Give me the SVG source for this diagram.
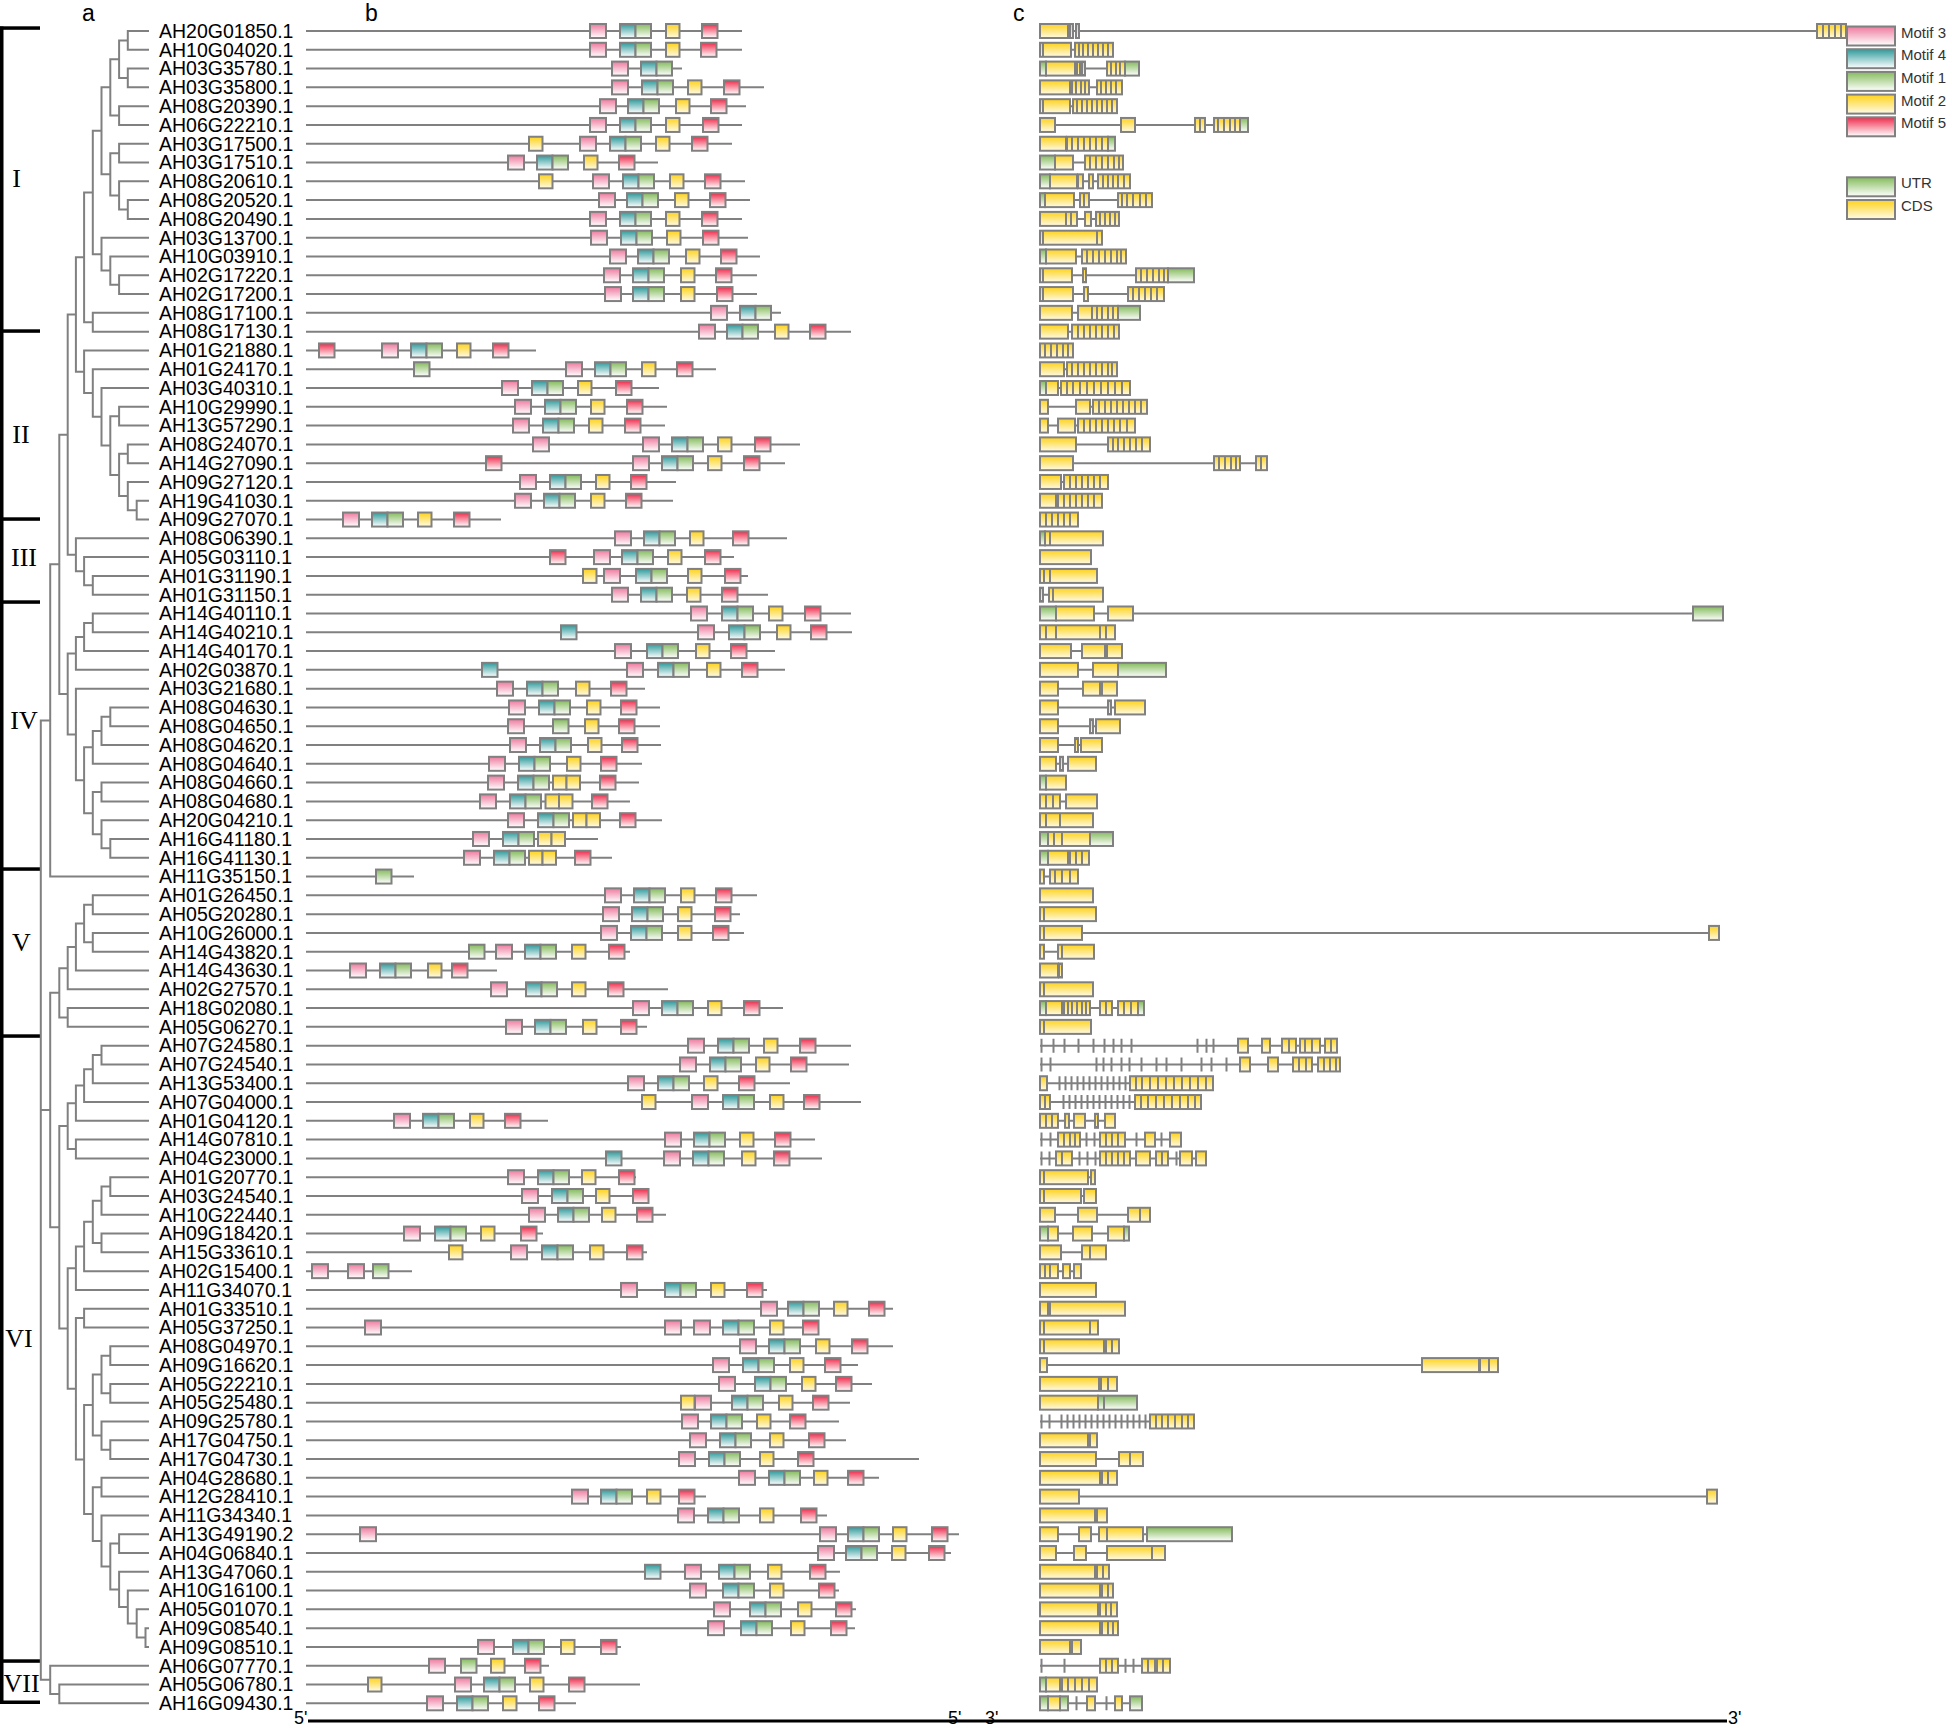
<svg xmlns="http://www.w3.org/2000/svg" xmlns:xlink="http://www.w3.org/1999/xlink" width="1952" height="1728" viewBox="0 0 1952 1728">
<style>
.lbl{font-family:"Liberation Sans",Arial,sans-serif;font-size:19.5px;fill:#000}
.hd{font-family:"Liberation Sans",Arial,sans-serif;font-size:23px;fill:#000}
.lg{font-family:"Liberation Sans",Arial,sans-serif;font-size:15px;fill:#333}
.rn{font-family:"Liberation Serif","Times New Roman",serif;font-size:26px;fill:#000;text-anchor:middle}
.ax{font-family:"Liberation Sans",Arial,sans-serif;font-size:18px;fill:#000}
.ln{stroke:#808080;stroke-width:2;fill:none}
.tr{stroke:#808080;stroke-width:2;fill:none}
.c{fill:url(#gY);stroke:#808080;stroke-width:2}
.u{fill:url(#gG);stroke:#808080;stroke-width:2}
.s{stroke:#808080;stroke-width:2;fill:none}
.bx{stroke:#808080;stroke-width:2}
</style>
<defs>
<linearGradient id="gP" x1="0" y1="0" x2="0" y2="1"><stop offset="0" stop-color="#ee7a9f"/><stop offset="1" stop-color="#ffffff"/></linearGradient>
<linearGradient id="gT" x1="0" y1="0" x2="0" y2="1"><stop offset="0" stop-color="#2e9a9b"/><stop offset="1" stop-color="#ffffff"/></linearGradient>
<linearGradient id="gG" x1="0" y1="0" x2="0" y2="1"><stop offset="0" stop-color="#84bb5c"/><stop offset="1" stop-color="#ffffff"/></linearGradient>
<linearGradient id="gY" x1="0" y1="0" x2="0" y2="1"><stop offset="0" stop-color="#ffd21a"/><stop offset="1" stop-color="#fffbe8"/></linearGradient>
<linearGradient id="gR" x1="0" y1="0" x2="0" y2="1"><stop offset="0" stop-color="#ee2b4b"/><stop offset="1" stop-color="#ffffff"/></linearGradient>
<rect id="P" y="-7" width="16" height="14" fill="url(#gP)" class="bx"/>
<rect id="T" y="-7" width="15.5" height="14" fill="url(#gT)" class="bx"/>
<rect id="G" y="-7" width="15.5" height="14" fill="url(#gG)" class="bx"/>
<rect id="Y" y="-7" width="13.5" height="14" fill="url(#gY)" class="bx"/>
<rect id="R" y="-7" width="15.5" height="14" fill="url(#gR)" class="bx"/>
<g id="TG"><rect y="-7" width="15.5" height="14" fill="url(#gT)" class="bx"/><rect x="15.5" y="-7" width="15.5" height="14" fill="url(#gG)" class="bx"/></g>
</defs>
<rect width="1952" height="1728" fill="#ffffff"/>

<g id="panel-labels">
<text class="hd" x="82" y="21">a</text>
<text class="hd" x="365" y="21">b</text>
<text class="hd" x="1013" y="21">c</text>
</g>

<g id="clades">
<rect x="0" y="26.5" width="3.5" height="1677.5" fill="#000"/>
<rect x="0" y="26.3" width="40" height="3.5" fill="#000"/>
<rect x="0" y="329.3" width="40" height="3.5" fill="#000"/>
<rect x="0" y="517.3" width="40" height="3.5" fill="#000"/>
<rect x="0" y="600.3" width="40" height="3.5" fill="#000"/>
<rect x="0" y="867.3" width="40" height="3.5" fill="#000"/>
<rect x="0" y="1034.3" width="40" height="3.5" fill="#000"/>
<rect x="0" y="1659.3" width="40" height="3.5" fill="#000"/>
<rect x="0" y="1700.5" width="40" height="3.5" fill="#000"/>
<text class="rn" x="16.5" y="187">I</text>
<text class="rn" x="21" y="443">II</text>
<text class="rn" x="24" y="566">III</text>
<text class="rn" x="24" y="729">IV</text>
<text class="rn" x="21.5" y="951">V</text>
<text class="rn" x="19" y="1347">VI</text>
<text class="rn" x="21.5" y="1692">VII</text>
</g>

<g id="connectors" class="tr">
<path d="M149 31H127.8V49.79H149M149 68.58H127.8V87.37H149M127.8 40.4H119.1V77.98H127.8M149 106.16H119.1V124.95H149M119.1 59.19H110.3V115.56H119.1M149 143.74H119.1V162.53H149M149 200.11H127.8V218.9H149M149 181.32H119.1V209.5H127.8M119.1 153.14H110.3V195.41H119.1M110.3 87.37H101.5V174.27H110.3M149 275.27H119.1V294.06H149M149 256.48H110.3V284.67H119.1M149 237.69H101.5V270.57H110.3M101.5 130.82H92.8V254.13H101.5M149 312.85H92.8V331.64H149M92.8 192.48H84.1V322.25H92.8"/>
<path d="M149 500.75H136.7V519.54H149M149 481.96H127.8V510.15H136.7M149 444.38H127.8V463.17H149M127.8 453.78H119.1V496.06H127.8M149 406.8H119.1V425.59H149M119.1 416.2H110.3V474.92H119.1M149 388.01H101.5V445.56H110.3M149 369.22H92.8V416.79H101.5M149 350.43H84.1V393H92.8M84.1 257.37H75.9V371.72H84.1"/>
<path d="M149 575.91H92.8V594.7H149M149 557.12H84.1V585.3H92.8M149 538.33H75.9V571.21H84.1M75.9 314.54H67.7V554.77H75.9"/>
<path d="M149 613.49H92.8V632.28H149M92.8 622.89H84.1V651.07H149M84.1 636.98H75.9V669.86H149M149 707.44H110.3V726.23H149M110.3 716.84H101.5V745.02H149M101.5 730.93H92.8V763.81H149M149 782.6H101.5V801.39H149M149 838.97H110.3V857.76H149M149 820.18H101.5V848.37H110.3M101.5 792H92.8V834.27H101.5M92.8 747.37H84.1V813.14H92.8M149 688.65H75.9V780.25H84.1M75.9 653.42H67.7V734.45H75.9M67.7 434.66H59.3V693.94H67.7M59.3 564.3H50.2V876.55H149"/>
<path d="M149 895.34H92.8V914.13H149M149 932.92H92.8V951.71H149M92.8 904.74H84.1V942.32H92.8M84.1 923.53H75.9V970.5H149M75.9 947.02H67.7V989.29H149M149 1008.08H67.7V1026.87H149M67.7 968.15H59.3V1017.48H67.7"/>
<path d="M149 1045.66H101.5V1064.45H149M101.5 1055.06H92.8V1083.24H149M92.8 1069.15H84.1V1102.03H149M84.1 1085.59H75.9V1120.82H149M149 1139.61H75.9V1158.4H149M75.9 1103.2H67.7V1149H75.9M149 1177.19H110.3V1195.98H149M110.3 1186.59H101.5V1214.77H149M149 1233.56H101.5V1252.35H149M101.5 1200.68H92.8V1242.96H101.5M92.8 1221.82H84.1V1271.14H149M84.1 1246.48H75.9V1289.93H149M149 1308.72H84.1V1327.51H149M149 1346.3H110.3V1365.09H149M149 1383.88H110.3V1402.67H149M110.3 1355.7H101.5V1393.28H110.3M149 1440.25H110.3V1459.04H149M149 1421.46H101.5V1449.65H110.3M101.5 1374.49H92.8V1435.55H101.5M149 1477.83H101.5V1496.62H149M149 1628.15H145.5V1646.94H149M149 1609.36H136.7V1637.55H145.5M149 1590.57H127.8V1623.45H136.7M149 1571.78H119.1V1607.01H127.8M149 1534.2H119.1V1552.99H149M119.1 1543.6H110.3V1589.4H119.1M149 1515.41H101.5V1566.5H110.3M101.5 1487.23H92.8V1540.95H101.5M92.8 1405.02H84.1V1514.09H92.8M84.1 1318.12H75.9V1459.56H84.1M75.9 1268.2H67.7V1388.84H75.9M67.7 1126.1H59.3V1328.52H67.7M59.3 992.81H50.2V1227.31H59.3"/>
<path d="M149 1684.52H59.3V1703.31H149M149 1665.73H50.2V1693.92H59.3"/>
<path d="M50.2 720.43H40.8V1679.83H50.2M40.8 1110.06H50.2"/>
</g>

<g id="r0" transform="translate(0,31)"><text class="lbl" x="159" y="6.8">AH20G01850.1</text><path class="ln" d="M306 0H742"/><use href="#P" x="590"/><use href="#TG" x="620"/><use href="#Y" x="666"/><use href="#R" x="702"/><path class="ln" d="M1040 0H1846"/><rect class="c" x="1040" y="-7" width="28" height="14"/><rect class="c" x="1070" y="-7" width="3" height="14"/><rect class="c" x="1076" y="-7" width="3" height="14"/><rect class="c" x="1817" y="-7" width="29" height="14"/><path class="s" d="M1823 -7V7M1829 -7V7M1835 -7V7M1841 -7V7"/></g>
<g id="r1" transform="translate(0,49.79)"><text class="lbl" x="159" y="6.8">AH10G04020.1</text><path class="ln" d="M306 0H742"/><use href="#P" x="590"/><use href="#TG" x="620"/><use href="#Y" x="666"/><use href="#R" x="701"/><path class="ln" d="M1040 0H1113"/><rect class="c" x="1040" y="-7" width="31" height="14"/><rect class="c" x="1075" y="-7" width="38" height="14"/><path class="s" d="M1043 -7V7M1079 -7V7M1083 -7V7M1088 -7V7M1093 -7V7M1098 -7V7M1103 -7V7M1108 -7V7"/></g>
<g id="r2" transform="translate(0,68.58)"><text class="lbl" x="159" y="6.8">AH03G35780.1</text><path class="ln" d="M306 0H682"/><use href="#P" x="612"/><use href="#TG" x="641"/><path class="ln" d="M1040 0H1139"/><rect class="u" x="1040" y="-7" width="6" height="14"/><rect class="c" x="1046" y="-7" width="29" height="14"/><rect class="c" x="1077" y="-7" width="3" height="14"/><rect class="c" x="1082" y="-7" width="3" height="14"/><rect class="c" x="1107" y="-7" width="18" height="14"/><rect class="u" x="1125" y="-7" width="14" height="14"/><path class="s" d="M1111 -7V7M1116 -7V7M1120 -7V7"/></g>
<g id="r3" transform="translate(0,87.37)"><text class="lbl" x="159" y="6.8">AH03G35800.1</text><path class="ln" d="M306 0H764"/><use href="#P" x="612"/><use href="#TG" x="642"/><use href="#Y" x="688"/><use href="#R" x="724"/><path class="ln" d="M1040 0H1122"/><rect class="c" x="1040" y="-7" width="30" height="14"/><rect class="c" x="1072" y="-7" width="17" height="14"/><rect class="c" x="1097" y="-7" width="25" height="14"/><path class="s" d="M1076 -7V7M1081 -7V7M1085 -7V7M1101 -7V7M1106 -7V7M1111 -7V7M1116 -7V7"/></g>
<g id="r4" transform="translate(0,106.16)"><text class="lbl" x="159" y="6.8">AH08G20390.1</text><path class="ln" d="M306 0H746"/><use href="#P" x="600"/><use href="#TG" x="628"/><use href="#Y" x="676"/><use href="#R" x="711"/><path class="ln" d="M1040 0H1117"/><rect class="c" x="1040" y="-7" width="30" height="14"/><rect class="c" x="1073" y="-7" width="44" height="14"/><path class="s" d="M1043 -7V7M1077 -7V7M1082 -7V7M1087 -7V7M1092 -7V7M1097 -7V7M1102 -7V7M1107 -7V7M1112 -7V7"/></g>
<g id="r5" transform="translate(0,124.95)"><text class="lbl" x="159" y="6.8">AH06G22210.1</text><path class="ln" d="M306 0H742"/><use href="#P" x="590"/><use href="#TG" x="620"/><use href="#Y" x="666"/><use href="#R" x="703"/><path class="ln" d="M1040 0H1248"/><rect class="c" x="1040" y="-7" width="15" height="14"/><rect class="c" x="1121" y="-7" width="14" height="14"/><rect class="c" x="1195" y="-7" width="10" height="14"/><rect class="c" x="1214" y="-7" width="26" height="14"/><rect class="u" x="1240" y="-7" width="8" height="14"/><path class="s" d="M1200 -7V7M1218 -7V7M1224 -7V7M1230 -7V7M1235 -7V7"/></g>
<g id="r6" transform="translate(0,143.74)"><text class="lbl" x="159" y="6.8">AH03G17500.1</text><path class="ln" d="M306 0H732"/><use href="#Y" x="529"/><use href="#P" x="580"/><use href="#TG" x="610"/><use href="#Y" x="656"/><use href="#R" x="692"/><path class="ln" d="M1040 0H1115"/><rect class="c" x="1040" y="-7" width="26" height="14"/><rect class="c" x="1067" y="-7" width="41" height="14"/><rect class="u" x="1108" y="-7" width="7" height="14"/><path class="s" d="M1072 -7V7M1078 -7V7M1084 -7V7M1090 -7V7M1096 -7V7M1102 -7V7"/></g>
<g id="r7" transform="translate(0,162.53)"><text class="lbl" x="159" y="6.8">AH03G17510.1</text><path class="ln" d="M306 0H658"/><use href="#P" x="508"/><use href="#TG" x="537"/><use href="#Y" x="584"/><use href="#R" x="619"/><path class="ln" d="M1040 0H1123"/><rect class="u" x="1040" y="-7" width="15" height="14"/><rect class="c" x="1055" y="-7" width="18" height="14"/><rect class="c" x="1085" y="-7" width="38" height="14"/><path class="s" d="M1090 -7V7M1096 -7V7M1102 -7V7M1108 -7V7M1114 -7V7M1119 -7V7"/></g>
<g id="r8" transform="translate(0,181.32)"><text class="lbl" x="159" y="6.8">AH08G20610.1</text><path class="ln" d="M306 0H745"/><use href="#Y" x="539"/><use href="#P" x="593"/><use href="#TG" x="623"/><use href="#Y" x="670"/><use href="#R" x="705"/><path class="ln" d="M1040 0H1130"/><rect class="u" x="1040" y="-7" width="10" height="14"/><rect class="c" x="1050" y="-7" width="27" height="14"/><rect class="c" x="1078" y="-7" width="5" height="14"/><rect class="c" x="1089" y="-7" width="4" height="14"/><rect class="c" x="1098" y="-7" width="32" height="14"/><path class="s" d="M1103 -7V7M1108 -7V7M1113 -7V7M1118 -7V7M1124 -7V7"/></g>
<g id="r9" transform="translate(0,200.11)"><text class="lbl" x="159" y="6.8">AH08G20520.1</text><path class="ln" d="M306 0H750"/><use href="#P" x="599"/><use href="#TG" x="627"/><use href="#Y" x="675"/><use href="#R" x="710"/><path class="ln" d="M1040 0H1152"/><rect class="u" x="1040" y="-7" width="5" height="14"/><rect class="c" x="1045" y="-7" width="29" height="14"/><rect class="c" x="1080" y="-7" width="9" height="14"/><rect class="c" x="1118" y="-7" width="34" height="14"/><path class="s" d="M1084 -7V7M1122 -7V7M1127 -7V7M1133 -7V7M1140 -7V7M1146 -7V7"/></g>
<g id="r10" transform="translate(0,218.9)"><text class="lbl" x="159" y="6.8">AH08G20490.1</text><path class="ln" d="M306 0H742"/><use href="#P" x="590"/><use href="#TG" x="620"/><use href="#Y" x="666"/><use href="#R" x="702"/><path class="ln" d="M1040 0H1119"/><rect class="c" x="1040" y="-7" width="37" height="14"/><rect class="c" x="1085" y="-7" width="6" height="14"/><rect class="c" x="1096" y="-7" width="23" height="14"/><path class="s" d="M1066 -7V7M1071 -7V7M1100 -7V7M1105 -7V7M1110 -7V7M1115 -7V7"/></g>
<g id="r11" transform="translate(0,237.69)"><text class="lbl" x="159" y="6.8">AH03G13700.1</text><path class="ln" d="M306 0H748"/><use href="#P" x="591"/><use href="#TG" x="621"/><use href="#Y" x="667"/><use href="#R" x="703"/><rect class="c" x="1040" y="-7" width="62" height="14"/><path class="s" d="M1043 -7V7M1097 -7V7"/></g>
<g id="r12" transform="translate(0,256.48)"><text class="lbl" x="159" y="6.8">AH10G03910.1</text><path class="ln" d="M306 0H760"/><use href="#P" x="610"/><use href="#TG" x="638"/><use href="#Y" x="686"/><use href="#R" x="721"/><path class="ln" d="M1040 0H1126"/><rect class="u" x="1040" y="-7" width="6" height="14"/><rect class="c" x="1046" y="-7" width="30" height="14"/><rect class="c" x="1082" y="-7" width="44" height="14"/><path class="s" d="M1087 -7V7M1093 -7V7M1099 -7V7M1105 -7V7M1111 -7V7M1117 -7V7M1121 -7V7"/></g>
<g id="r13" transform="translate(0,275.27)"><text class="lbl" x="159" y="6.8">AH02G17220.1</text><path class="ln" d="M306 0H757"/><use href="#P" x="604"/><use href="#TG" x="633"/><use href="#Y" x="681"/><use href="#R" x="716"/><path class="ln" d="M1040 0H1194"/><rect class="c" x="1040" y="-7" width="32" height="14"/><rect class="c" x="1083" y="-7" width="3" height="14"/><rect class="c" x="1136" y="-7" width="32" height="14"/><rect class="u" x="1168" y="-7" width="26" height="14"/><path class="s" d="M1043 -7V7M1141 -7V7M1147 -7V7M1153 -7V7M1159 -7V7M1164 -7V7"/></g>
<g id="r14" transform="translate(0,294.06)"><text class="lbl" x="159" y="6.8">AH02G17200.1</text><path class="ln" d="M306 0H757"/><use href="#P" x="605"/><use href="#TG" x="633"/><use href="#Y" x="681"/><use href="#R" x="717"/><path class="ln" d="M1040 0H1164"/><rect class="c" x="1040" y="-7" width="33" height="14"/><rect class="c" x="1084" y="-7" width="4" height="14"/><rect class="c" x="1128" y="-7" width="36" height="14"/><path class="s" d="M1043 -7V7M1133 -7V7M1139 -7V7M1145 -7V7M1151 -7V7M1157 -7V7"/></g>
<g id="r15" transform="translate(0,312.85)"><text class="lbl" x="159" y="6.8">AH08G17100.1</text><path class="ln" d="M306 0H781"/><use href="#P" x="711"/><use href="#TG" x="740"/><path class="ln" d="M1040 0H1140"/><rect class="c" x="1040" y="-7" width="32" height="14"/><rect class="c" x="1078" y="-7" width="40" height="14"/><rect class="u" x="1118" y="-7" width="22" height="14"/><path class="s" d="M1092 -7V7M1097 -7V7M1102 -7V7M1108 -7V7M1113 -7V7"/></g>
<g id="r16" transform="translate(0,331.64)"><text class="lbl" x="159" y="6.8">AH08G17130.1</text><path class="ln" d="M306 0H851"/><use href="#P" x="699"/><use href="#TG" x="727"/><use href="#Y" x="775"/><use href="#R" x="810"/><path class="ln" d="M1040 0H1119"/><rect class="c" x="1040" y="-7" width="28" height="14"/><rect class="c" x="1072" y="-7" width="47" height="14"/><path class="s" d="M1078 -7V7M1084 -7V7M1090 -7V7M1096 -7V7M1102 -7V7M1108 -7V7M1114 -7V7"/></g>
<g id="r17" transform="translate(0,350.43)"><text class="lbl" x="159" y="6.8">AH01G21880.1</text><path class="ln" d="M306 0H536"/><use href="#R" x="319"/><use href="#P" x="382"/><use href="#TG" x="411"/><use href="#Y" x="457"/><use href="#R" x="493"/><rect class="c" x="1040" y="-7" width="33" height="14"/><path class="s" d="M1045 -7V7M1051 -7V7M1057 -7V7M1063 -7V7M1068 -7V7"/></g>
<g id="r18" transform="translate(0,369.22)"><text class="lbl" x="159" y="6.8">AH01G24170.1</text><path class="ln" d="M306 0H716"/><use href="#G" x="414"/><use href="#P" x="566"/><use href="#TG" x="595"/><use href="#Y" x="642"/><use href="#R" x="677"/><path class="ln" d="M1040 0H1117"/><rect class="c" x="1040" y="-7" width="24" height="14"/><rect class="c" x="1067" y="-7" width="50" height="14"/><path class="s" d="M1072 -7V7M1078 -7V7M1084 -7V7M1090 -7V7M1096 -7V7M1102 -7V7M1108 -7V7M1112 -7V7"/></g>
<g id="r19" transform="translate(0,388.01)"><text class="lbl" x="159" y="6.8">AH03G40310.1</text><path class="ln" d="M306 0H659"/><use href="#P" x="502"/><use href="#TG" x="532"/><use href="#Y" x="578"/><use href="#R" x="616"/><path class="ln" d="M1040 0H1130"/><rect class="u" x="1040" y="-7" width="6" height="14"/><rect class="c" x="1046" y="-7" width="12" height="14"/><rect class="c" x="1061" y="-7" width="69" height="14"/><path class="s" d="M1067 -7V7M1073 -7V7M1080 -7V7M1087 -7V7M1094 -7V7M1101 -7V7M1108 -7V7M1115 -7V7M1122 -7V7"/></g>
<g id="r20" transform="translate(0,406.8)"><text class="lbl" x="159" y="6.8">AH10G29990.1</text><path class="ln" d="M306 0H667"/><use href="#P" x="515"/><use href="#TG" x="545"/><use href="#Y" x="591"/><use href="#R" x="627"/><path class="ln" d="M1040 0H1147"/><rect class="c" x="1040" y="-7" width="8" height="14"/><rect class="c" x="1076" y="-7" width="14" height="14"/><rect class="c" x="1093" y="-7" width="54" height="14"/><path class="s" d="M1099 -7V7M1105 -7V7M1111 -7V7M1117 -7V7M1123 -7V7M1129 -7V7M1135 -7V7M1141 -7V7"/></g>
<g id="r21" transform="translate(0,425.59)"><text class="lbl" x="159" y="6.8">AH13G57290.1</text><path class="ln" d="M306 0H665"/><use href="#P" x="513"/><use href="#TG" x="543"/><use href="#Y" x="589"/><use href="#R" x="625"/><path class="ln" d="M1040 0H1135"/><rect class="c" x="1040" y="-7" width="8" height="14"/><rect class="c" x="1058" y="-7" width="17" height="14"/><rect class="c" x="1078" y="-7" width="57" height="14"/><path class="s" d="M1084 -7V7M1090 -7V7M1096 -7V7M1102 -7V7M1108 -7V7M1114 -7V7M1120 -7V7M1127 -7V7"/></g>
<g id="r22" transform="translate(0,444.38)"><text class="lbl" x="159" y="6.8">AH08G24070.1</text><path class="ln" d="M306 0H800"/><use href="#P" x="533"/><use href="#P" x="643"/><use href="#TG" x="672"/><use href="#Y" x="718"/><use href="#R" x="755"/><path class="ln" d="M1040 0H1150"/><rect class="c" x="1040" y="-7" width="36" height="14"/><rect class="c" x="1108" y="-7" width="42" height="14"/><path class="s" d="M1113 -7V7M1118 -7V7M1124 -7V7M1130 -7V7M1136 -7V7M1142 -7V7"/></g>
<g id="r23" transform="translate(0,463.17)"><text class="lbl" x="159" y="6.8">AH14G27090.1</text><path class="ln" d="M306 0H785"/><use href="#R" x="486"/><use href="#P" x="633"/><use href="#TG" x="662"/><use href="#Y" x="708"/><use href="#R" x="744"/><path class="ln" d="M1040 0H1267"/><rect class="c" x="1040" y="-7" width="33" height="14"/><rect class="c" x="1214" y="-7" width="26" height="14"/><rect class="c" x="1256" y="-7" width="11" height="14"/><path class="s" d="M1219 -7V7M1225 -7V7M1231 -7V7M1236 -7V7M1261 -7V7"/></g>
<g id="r24" transform="translate(0,481.96)"><text class="lbl" x="159" y="6.8">AH09G27120.1</text><path class="ln" d="M306 0H676"/><use href="#P" x="520"/><use href="#TG" x="550"/><use href="#Y" x="596"/><use href="#R" x="631"/><path class="ln" d="M1040 0H1108"/><rect class="c" x="1040" y="-7" width="21" height="14"/><rect class="c" x="1064" y="-7" width="44" height="14"/><path class="s" d="M1070 -7V7M1076 -7V7M1082 -7V7M1088 -7V7M1094 -7V7M1100 -7V7"/></g>
<g id="r25" transform="translate(0,500.75)"><text class="lbl" x="159" y="6.8">AH19G41030.1</text><path class="ln" d="M306 0H673"/><use href="#P" x="515"/><use href="#TG" x="544"/><use href="#Y" x="591"/><use href="#R" x="626"/><path class="ln" d="M1040 0H1102"/><rect class="c" x="1040" y="-7" width="16" height="14"/><rect class="c" x="1058" y="-7" width="44" height="14"/><path class="s" d="M1064 -7V7M1070 -7V7M1076 -7V7M1082 -7V7M1088 -7V7M1094 -7V7"/></g>
<g id="r26" transform="translate(0,519.54)"><text class="lbl" x="159" y="6.8">AH09G27070.1</text><path class="ln" d="M306 0H501"/><use href="#P" x="343"/><use href="#TG" x="372"/><use href="#Y" x="418"/><use href="#R" x="454"/><rect class="c" x="1040" y="-7" width="38" height="14"/><path class="s" d="M1046 -7V7M1052 -7V7M1058 -7V7M1064 -7V7M1070 -7V7"/></g>
<g id="r27" transform="translate(0,538.33)"><text class="lbl" x="159" y="6.8">AH08G06390.1</text><path class="ln" d="M306 0H787"/><use href="#P" x="615"/><use href="#TG" x="644"/><use href="#Y" x="690"/><use href="#R" x="733"/><rect class="u" x="1040" y="-7" width="5" height="14"/><rect class="c" x="1045" y="-7" width="58" height="14"/><path class="s" d="M1050 -7V7"/></g>
<g id="r28" transform="translate(0,557.12)"><text class="lbl" x="159" y="6.8">AH05G03110.1</text><path class="ln" d="M306 0H734"/><use href="#R" x="550"/><use href="#P" x="594"/><use href="#TG" x="622"/><use href="#Y" x="668"/><use href="#R" x="705"/><rect class="c" x="1040" y="-7" width="51" height="14"/></g>
<g id="r29" transform="translate(0,575.91)"><text class="lbl" x="159" y="6.8">AH01G31190.1</text><path class="ln" d="M306 0H748"/><use href="#Y" x="583"/><use href="#P" x="604"/><use href="#TG" x="636"/><use href="#Y" x="688"/><use href="#R" x="725"/><rect class="c" x="1040" y="-7" width="57" height="14"/><path class="s" d="M1044 -7V7M1050 -7V7"/></g>
<g id="r30" transform="translate(0,594.7)"><text class="lbl" x="159" y="6.8">AH01G31150.1</text><path class="ln" d="M306 0H768"/><use href="#P" x="612"/><use href="#TG" x="641"/><use href="#Y" x="687"/><use href="#R" x="722"/><path class="ln" d="M1040 0H1103"/><rect class="c" x="1040" y="-7" width="3" height="14"/><rect class="c" x="1049" y="-7" width="54" height="14"/><path class="s" d="M1053 -7V7"/></g>
<g id="r31" transform="translate(0,613.49)"><text class="lbl" x="159" y="6.8">AH14G40110.1</text><path class="ln" d="M306 0H851"/><use href="#P" x="691"/><use href="#TG" x="722"/><use href="#Y" x="769"/><use href="#R" x="805"/><path class="ln" d="M1040 0H1723"/><rect class="u" x="1040" y="-7" width="16" height="14"/><rect class="c" x="1056" y="-7" width="38" height="14"/><rect class="c" x="1108" y="-7" width="25" height="14"/><rect class="u" x="1693" y="-7" width="30" height="14"/></g>
<g id="r32" transform="translate(0,632.28)"><text class="lbl" x="159" y="6.8">AH14G40210.1</text><path class="ln" d="M306 0H852"/><use href="#T" x="561"/><use href="#P" x="698"/><use href="#TG" x="729"/><use href="#Y" x="777"/><use href="#R" x="811"/><rect class="c" x="1040" y="-7" width="75" height="14"/><path class="s" d="M1046 -7V7M1056 -7V7M1100 -7V7M1106 -7V7"/></g>
<g id="r33" transform="translate(0,651.07)"><text class="lbl" x="159" y="6.8">AH14G40170.1</text><path class="ln" d="M306 0H775"/><use href="#P" x="615"/><use href="#TG" x="647"/><use href="#Y" x="696"/><use href="#R" x="731"/><path class="ln" d="M1040 0H1122"/><rect class="c" x="1040" y="-7" width="31" height="14"/><rect class="c" x="1082" y="-7" width="23" height="14"/><rect class="c" x="1107" y="-7" width="15" height="14"/></g>
<g id="r34" transform="translate(0,669.86)"><text class="lbl" x="159" y="6.8">AH02G03870.1</text><path class="ln" d="M306 0H785"/><use href="#T" x="482"/><use href="#P" x="627"/><use href="#TG" x="658"/><use href="#Y" x="707"/><use href="#R" x="742"/><path class="ln" d="M1040 0H1166"/><rect class="c" x="1040" y="-7" width="38" height="14"/><rect class="c" x="1093" y="-7" width="25" height="14"/><rect class="u" x="1118" y="-7" width="48" height="14"/></g>
<g id="r35" transform="translate(0,688.65)"><text class="lbl" x="159" y="6.8">AH03G21680.1</text><path class="ln" d="M306 0H645"/><use href="#P" x="497"/><use href="#TG" x="527"/><use href="#Y" x="576"/><use href="#R" x="611"/><path class="ln" d="M1040 0H1117"/><rect class="c" x="1040" y="-7" width="18" height="14"/><rect class="c" x="1083" y="-7" width="17" height="14"/><rect class="c" x="1102" y="-7" width="15" height="14"/></g>
<g id="r36" transform="translate(0,707.44)"><text class="lbl" x="159" y="6.8">AH08G04630.1</text><path class="ln" d="M306 0H660"/><use href="#P" x="509"/><use href="#TG" x="539"/><use href="#Y" x="587"/><use href="#R" x="621"/><path class="ln" d="M1040 0H1145"/><rect class="c" x="1040" y="-7" width="18" height="14"/><rect class="c" x="1108" y="-7" width="3" height="14"/><rect class="c" x="1115" y="-7" width="30" height="14"/></g>
<g id="r37" transform="translate(0,726.23)"><text class="lbl" x="159" y="6.8">AH08G04650.1</text><path class="ln" d="M306 0H660"/><use href="#P" x="508"/><use href="#G" x="553"/><use href="#Y" x="585"/><use href="#R" x="619"/><path class="ln" d="M1040 0H1120"/><rect class="c" x="1040" y="-7" width="18" height="14"/><rect class="c" x="1090" y="-7" width="3" height="14"/><rect class="c" x="1096" y="-7" width="24" height="14"/></g>
<g id="r38" transform="translate(0,745.02)"><text class="lbl" x="159" y="6.8">AH08G04620.1</text><path class="ln" d="M306 0H661"/><use href="#P" x="510"/><use href="#TG" x="540"/><use href="#Y" x="588"/><use href="#R" x="622"/><path class="ln" d="M1040 0H1102"/><rect class="c" x="1040" y="-7" width="18" height="14"/><rect class="c" x="1075" y="-7" width="3" height="14"/><rect class="c" x="1081" y="-7" width="21" height="14"/></g>
<g id="r39" transform="translate(0,763.81)"><text class="lbl" x="159" y="6.8">AH08G04640.1</text><path class="ln" d="M306 0H642"/><use href="#P" x="489"/><use href="#TG" x="519"/><use href="#Y" x="567"/><use href="#R" x="601"/><path class="ln" d="M1040 0H1096"/><rect class="c" x="1040" y="-7" width="16" height="14"/><rect class="c" x="1060" y="-7" width="3" height="14"/><rect class="c" x="1068" y="-7" width="28" height="14"/></g>
<g id="r40" transform="translate(0,782.6)"><text class="lbl" x="159" y="6.8">AH08G04660.1</text><path class="ln" d="M306 0H639"/><use href="#P" x="488"/><use href="#TG" x="518"/><use href="#Y" x="553"/><use href="#Y" x="566.5"/><use href="#R" x="600"/><rect class="u" x="1040" y="-7" width="6" height="14"/><rect class="c" x="1046" y="-7" width="20" height="14"/></g>
<g id="r41" transform="translate(0,801.39)"><text class="lbl" x="159" y="6.8">AH08G04680.1</text><path class="ln" d="M306 0H630"/><use href="#P" x="480"/><use href="#TG" x="510"/><use href="#Y" x="545.5"/><use href="#Y" x="559"/><use href="#R" x="592"/><path class="ln" d="M1040 0H1097"/><rect class="c" x="1040" y="-7" width="20" height="14"/><rect class="c" x="1066" y="-7" width="31" height="14"/><path class="s" d="M1046 -7V7M1053 -7V7"/></g>
<g id="r42" transform="translate(0,820.18)"><text class="lbl" x="159" y="6.8">AH20G04210.1</text><path class="ln" d="M306 0H662"/><use href="#P" x="508"/><use href="#TG" x="538"/><use href="#Y" x="573"/><use href="#Y" x="586.5"/><use href="#R" x="620"/><rect class="c" x="1040" y="-7" width="53" height="14"/><path class="s" d="M1046 -7V7M1060 -7V7"/></g>
<g id="r43" transform="translate(0,838.97)"><text class="lbl" x="159" y="6.8">AH16G41180.1</text><path class="ln" d="M306 0H598"/><use href="#P" x="473"/><use href="#TG" x="503"/><use href="#Y" x="538"/><use href="#Y" x="551.5"/><rect class="u" x="1040" y="-7" width="8" height="14"/><rect class="c" x="1048" y="-7" width="42" height="14"/><rect class="u" x="1090" y="-7" width="23" height="14"/><path class="s" d="M1054 -7V7M1062 -7V7"/></g>
<g id="r44" transform="translate(0,857.76)"><text class="lbl" x="159" y="6.8">AH16G41130.1</text><path class="ln" d="M306 0H612"/><use href="#P" x="464"/><use href="#TG" x="494"/><use href="#Y" x="529"/><use href="#Y" x="542.5"/><use href="#R" x="575"/><path class="ln" d="M1040 0H1089"/><rect class="u" x="1040" y="-7" width="8" height="14"/><rect class="c" x="1048" y="-7" width="20" height="14"/><rect class="c" x="1070" y="-7" width="19" height="14"/><path class="s" d="M1076 -7V7M1082 -7V7"/></g>
<g id="r45" transform="translate(0,876.55)"><text class="lbl" x="159" y="6.8">AH11G35150.1</text><path class="ln" d="M306 0H414"/><use href="#G" x="376"/><path class="ln" d="M1040 0H1078"/><rect class="c" x="1040" y="-7" width="4" height="14"/><rect class="c" x="1050" y="-7" width="28" height="14"/><path class="s" d="M1055 -7V7M1062 -7V7M1070 -7V7"/></g>
<g id="r46" transform="translate(0,895.34)"><text class="lbl" x="159" y="6.8">AH01G26450.1</text><path class="ln" d="M306 0H757"/><use href="#P" x="605"/><use href="#TG" x="634"/><use href="#Y" x="681"/><use href="#R" x="716"/><rect class="c" x="1040" y="-7" width="53" height="14"/></g>
<g id="r47" transform="translate(0,914.13)"><text class="lbl" x="159" y="6.8">AH05G20280.1</text><path class="ln" d="M306 0H740"/><use href="#P" x="603"/><use href="#TG" x="632"/><use href="#Y" x="678"/><use href="#R" x="715"/><rect class="c" x="1040" y="-7" width="56" height="14"/><path class="s" d="M1044 -7V7"/></g>
<g id="r48" transform="translate(0,932.92)"><text class="lbl" x="159" y="6.8">AH10G26000.1</text><path class="ln" d="M306 0H744"/><use href="#P" x="601"/><use href="#TG" x="631"/><use href="#Y" x="678"/><use href="#R" x="713"/><path class="ln" d="M1040 0H1719"/><rect class="c" x="1040" y="-7" width="42" height="14"/><rect class="c" x="1709" y="-7" width="10" height="14"/><path class="s" d="M1044 -7V7"/></g>
<g id="r49" transform="translate(0,951.71)"><text class="lbl" x="159" y="6.8">AH14G43820.1</text><path class="ln" d="M306 0H630"/><use href="#G" x="469"/><use href="#P" x="496"/><use href="#TG" x="525"/><use href="#Y" x="572"/><use href="#R" x="609"/><path class="ln" d="M1040 0H1094"/><rect class="c" x="1040" y="-7" width="4" height="14"/><rect class="c" x="1058" y="-7" width="36" height="14"/><path class="s" d="M1062 -7V7"/></g>
<g id="r50" transform="translate(0,970.5)"><text class="lbl" x="159" y="6.8">AH14G43630.1</text><path class="ln" d="M306 0H497"/><use href="#P" x="350"/><use href="#TG" x="380"/><use href="#Y" x="428"/><use href="#R" x="452"/><path class="ln" d="M1040 0H1062"/><rect class="c" x="1040" y="-7" width="18" height="14"/><rect class="c" x="1059" y="-7" width="3" height="14"/></g>
<g id="r51" transform="translate(0,989.29)"><text class="lbl" x="159" y="6.8">AH02G27570.1</text><path class="ln" d="M306 0H668"/><use href="#P" x="491"/><use href="#TG" x="526"/><use href="#Y" x="572"/><use href="#R" x="608"/><rect class="c" x="1040" y="-7" width="53" height="14"/><path class="s" d="M1044 -7V7"/></g>
<g id="r52" transform="translate(0,1008.08)"><text class="lbl" x="159" y="6.8">AH18G02080.1</text><path class="ln" d="M306 0H783"/><use href="#P" x="633"/><use href="#TG" x="662"/><use href="#Y" x="708"/><use href="#R" x="744"/><path class="ln" d="M1040 0H1144"/><rect class="u" x="1040" y="-7" width="6" height="14"/><rect class="c" x="1046" y="-7" width="16" height="14"/><rect class="c" x="1064" y="-7" width="26" height="14"/><rect class="c" x="1100" y="-7" width="12" height="14"/><rect class="c" x="1118" y="-7" width="20" height="14"/><rect class="u" x="1138" y="-7" width="6" height="14"/><path class="s" d="M1068 -7V7M1072 -7V7M1077 -7V7M1082 -7V7M1086 -7V7M1106 -7V7M1124 -7V7M1131 -7V7"/></g>
<g id="r53" transform="translate(0,1026.87)"><text class="lbl" x="159" y="6.8">AH05G06270.1</text><path class="ln" d="M306 0H647"/><use href="#P" x="506"/><use href="#TG" x="535"/><use href="#Y" x="583"/><use href="#R" x="621"/><rect class="c" x="1040" y="-7" width="51" height="14"/><path class="s" d="M1044 -7V7"/></g>
<g id="r54" transform="translate(0,1045.66)"><text class="lbl" x="159" y="6.8">AH07G24580.1</text><path class="ln" d="M306 0H851"/><use href="#P" x="688"/><use href="#TG" x="718"/><use href="#Y" x="764"/><use href="#R" x="800"/><path class="ln" d="M1040 0H1337"/><path class="s" d="M1041.5 -7V7M1053.5 -7V7M1064.5 -7V7M1078.5 -7V7M1093.5 -7V7M1104.5 -7V7M1113.5 -7V7M1121.5 -7V7M1131.5 -7V7M1197.5 -7V7M1206.5 -7V7M1213.5 -7V7"/><rect class="c" x="1238" y="-7" width="10" height="14"/><rect class="c" x="1262" y="-7" width="8" height="14"/><rect class="c" x="1282" y="-7" width="14" height="14"/><rect class="c" x="1300" y="-7" width="20" height="14"/><rect class="c" x="1325" y="-7" width="12" height="14"/><path class="s" d="M1289 -7V7M1305 -7V7M1312 -7V7M1331 -7V7"/></g>
<g id="r55" transform="translate(0,1064.45)"><text class="lbl" x="159" y="6.8">AH07G24540.1</text><path class="ln" d="M306 0H849"/><use href="#P" x="680"/><use href="#TG" x="710"/><use href="#Y" x="756"/><use href="#R" x="791"/><path class="ln" d="M1040 0H1340"/><path class="s" d="M1041.5 -7V7M1050.5 -7V7M1096.5 -7V7M1103.5 -7V7M1111.5 -7V7M1121.5 -7V7M1129.5 -7V7M1141.5 -7V7M1156.5 -7V7M1166.5 -7V7M1181.5 -7V7M1201.5 -7V7M1211.5 -7V7M1226.5 -7V7"/><rect class="c" x="1240" y="-7" width="10" height="14"/><rect class="c" x="1268" y="-7" width="10" height="14"/><rect class="c" x="1293" y="-7" width="19" height="14"/><rect class="c" x="1318" y="-7" width="22" height="14"/><path class="s" d="M1299 -7V7M1306 -7V7M1324 -7V7M1330 -7V7M1336 -7V7"/></g>
<g id="r56" transform="translate(0,1083.24)"><text class="lbl" x="159" y="6.8">AH13G53400.1</text><path class="ln" d="M306 0H790"/><use href="#P" x="628"/><use href="#TG" x="658"/><use href="#Y" x="704"/><use href="#R" x="739"/><path class="ln" d="M1040 0H1213"/><rect class="c" x="1040" y="-7" width="7" height="14"/><path class="s" d="M1059.5 -7V7M1065.5 -7V7M1071.5 -7V7M1077.5 -7V7M1083.5 -7V7M1089.5 -7V7M1095.5 -7V7M1101.5 -7V7M1107.5 -7V7M1113.5 -7V7M1119.5 -7V7M1125.5 -7V7"/><rect class="c" x="1130" y="-7" width="83" height="14"/><path class="s" d="M1136 -7V7M1142 -7V7M1150 -7V7M1158 -7V7M1166 -7V7M1174 -7V7M1182 -7V7M1190 -7V7M1198 -7V7M1206 -7V7"/></g>
<g id="r57" transform="translate(0,1102.03)"><text class="lbl" x="159" y="6.8">AH07G04000.1</text><path class="ln" d="M306 0H861"/><use href="#Y" x="642"/><use href="#P" x="692"/><use href="#TG" x="723"/><use href="#Y" x="770"/><use href="#R" x="804"/><path class="ln" d="M1040 0H1201"/><rect class="c" x="1040" y="-7" width="10" height="14"/><path class="s" d="M1045 -7V7M1063.5 -7V7M1069.5 -7V7M1075.5 -7V7M1081.5 -7V7M1087.5 -7V7M1093.5 -7V7M1099.5 -7V7M1105.5 -7V7M1111.5 -7V7M1117.5 -7V7M1123.5 -7V7M1129.5 -7V7"/><rect class="c" x="1135" y="-7" width="66" height="14"/><path class="s" d="M1141 -7V7M1148 -7V7M1156 -7V7M1164 -7V7M1172 -7V7M1180 -7V7M1188 -7V7M1195 -7V7"/></g>
<g id="r58" transform="translate(0,1120.82)"><text class="lbl" x="159" y="6.8">AH01G04120.1</text><path class="ln" d="M306 0H548"/><use href="#P" x="394"/><use href="#TG" x="423"/><use href="#Y" x="470"/><use href="#R" x="505"/><path class="ln" d="M1040 0H1115"/><rect class="c" x="1040" y="-7" width="18" height="14"/><rect class="c" x="1065" y="-7" width="4" height="14"/><rect class="c" x="1074" y="-7" width="11" height="14"/><rect class="c" x="1095" y="-7" width="3" height="14"/><rect class="c" x="1105" y="-7" width="10" height="14"/><path class="s" d="M1046 -7V7M1052 -7V7"/></g>
<g id="r59" transform="translate(0,1139.61)"><text class="lbl" x="159" y="6.8">AH14G07810.1</text><path class="ln" d="M306 0H815"/><use href="#P" x="665"/><use href="#TG" x="694"/><use href="#Y" x="740"/><use href="#R" x="775"/><path class="ln" d="M1040 0H1181"/><path class="s" d="M1041.5 -7V7M1050.5 -7V7M1086.5 -7V7M1094.5 -7V7M1136.5 -7V7M1161.5 -7V7"/><rect class="c" x="1058" y="-7" width="22" height="14"/><rect class="c" x="1100" y="-7" width="25" height="14"/><rect class="c" x="1145" y="-7" width="10" height="14"/><rect class="c" x="1170" y="-7" width="11" height="14"/><path class="s" d="M1064 -7V7M1070 -7V7M1075 -7V7M1106 -7V7M1112 -7V7M1118 -7V7"/></g>
<g id="r60" transform="translate(0,1158.4)"><text class="lbl" x="159" y="6.8">AH04G23000.1</text><path class="ln" d="M306 0H822"/><use href="#T" x="606"/><use href="#P" x="664"/><use href="#TG" x="693"/><use href="#Y" x="742"/><use href="#R" x="774"/><path class="ln" d="M1040 0H1206"/><path class="s" d="M1041.5 -7V7M1049.5 -7V7M1079.5 -7V7M1087.5 -7V7M1095.5 -7V7M1176.5 -7V7"/><rect class="c" x="1056" y="-7" width="16" height="14"/><rect class="c" x="1100" y="-7" width="30" height="14"/><rect class="c" x="1136" y="-7" width="14" height="14"/><rect class="c" x="1156" y="-7" width="12" height="14"/><rect class="c" x="1180" y="-7" width="12" height="14"/><rect class="c" x="1196" y="-7" width="10" height="14"/><path class="s" d="M1062 -7V7M1106 -7V7M1112 -7V7M1118 -7V7M1124 -7V7M1162 -7V7"/></g>
<g id="r61" transform="translate(0,1177.19)"><text class="lbl" x="159" y="6.8">AH01G20770.1</text><path class="ln" d="M306 0H636"/><use href="#P" x="508"/><use href="#TG" x="538"/><use href="#Y" x="582"/><use href="#R" x="619"/><path class="ln" d="M1040 0H1095"/><rect class="c" x="1040" y="-7" width="48" height="14"/><rect class="c" x="1091" y="-7" width="4" height="14"/><path class="s" d="M1044 -7V7"/></g>
<g id="r62" transform="translate(0,1195.98)"><text class="lbl" x="159" y="6.8">AH03G24540.1</text><path class="ln" d="M306 0H649"/><use href="#P" x="522"/><use href="#TG" x="552"/><use href="#Y" x="596"/><use href="#R" x="633"/><path class="ln" d="M1040 0H1096"/><rect class="c" x="1040" y="-7" width="41" height="14"/><rect class="c" x="1084" y="-7" width="12" height="14"/><path class="s" d="M1044 -7V7"/></g>
<g id="r63" transform="translate(0,1214.77)"><text class="lbl" x="159" y="6.8">AH10G22440.1</text><path class="ln" d="M306 0H666"/><use href="#P" x="529"/><use href="#TG" x="558"/><use href="#Y" x="602"/><use href="#R" x="637"/><path class="ln" d="M1040 0H1150"/><rect class="c" x="1040" y="-7" width="15" height="14"/><rect class="c" x="1078" y="-7" width="19" height="14"/><rect class="c" x="1128" y="-7" width="22" height="14"/><path class="s" d="M1140 -7V7"/></g>
<g id="r64" transform="translate(0,1233.56)"><text class="lbl" x="159" y="6.8">AH09G18420.1</text><path class="ln" d="M306 0H543"/><use href="#P" x="404"/><use href="#TG" x="435"/><use href="#Y" x="481"/><use href="#R" x="521"/><path class="ln" d="M1040 0H1129"/><rect class="u" x="1040" y="-7" width="8" height="14"/><rect class="c" x="1048" y="-7" width="10" height="14"/><rect class="c" x="1073" y="-7" width="19" height="14"/><rect class="c" x="1108" y="-7" width="16" height="14"/><rect class="u" x="1124" y="-7" width="5" height="14"/></g>
<g id="r65" transform="translate(0,1252.35)"><text class="lbl" x="159" y="6.8">AH15G33610.1</text><path class="ln" d="M306 0H647"/><use href="#Y" x="449"/><use href="#P" x="511"/><use href="#TG" x="542"/><use href="#Y" x="590"/><use href="#R" x="627"/><path class="ln" d="M1040 0H1106"/><rect class="c" x="1040" y="-7" width="21" height="14"/><rect class="c" x="1082" y="-7" width="24" height="14"/><path class="s" d="M1090 -7V7"/></g>
<g id="r66" transform="translate(0,1271.14)"><text class="lbl" x="159" y="6.8">AH02G15400.1</text><path class="ln" d="M306 0H412"/><use href="#P" x="312"/><use href="#P" x="348"/><use href="#G" x="373"/><path class="ln" d="M1040 0H1081"/><rect class="c" x="1040" y="-7" width="18" height="14"/><rect class="c" x="1063" y="-7" width="7" height="14"/><rect class="c" x="1074" y="-7" width="7" height="14"/><path class="s" d="M1045 -7V7M1050 -7V7"/></g>
<g id="r67" transform="translate(0,1289.93)"><text class="lbl" x="159" y="6.8">AH11G34070.1</text><path class="ln" d="M306 0H767"/><use href="#P" x="621"/><use href="#TG" x="665"/><use href="#Y" x="711"/><use href="#R" x="747"/><rect class="c" x="1040" y="-7" width="56" height="14"/></g>
<g id="r68" transform="translate(0,1308.72)"><text class="lbl" x="159" y="6.8">AH01G33510.1</text><path class="ln" d="M306 0H893"/><use href="#P" x="761"/><use href="#TG" x="788"/><use href="#Y" x="834"/><use href="#R" x="869"/><path class="ln" d="M1040 0H1125"/><rect class="c" x="1040" y="-7" width="8" height="14"/><rect class="c" x="1050" y="-7" width="75" height="14"/></g>
<g id="r69" transform="translate(0,1327.51)"><text class="lbl" x="159" y="6.8">AH05G37250.1</text><path class="ln" d="M306 0H819"/><use href="#P" x="365"/><use href="#P" x="665"/><use href="#P" x="694"/><use href="#TG" x="723"/><use href="#Y" x="770"/><use href="#R" x="803"/><rect class="c" x="1040" y="-7" width="58" height="14"/><path class="s" d="M1044 -7V7M1090 -7V7"/></g>
<g id="r70" transform="translate(0,1346.3)"><text class="lbl" x="159" y="6.8">AH08G04970.1</text><path class="ln" d="M306 0H893"/><use href="#P" x="740"/><use href="#TG" x="769"/><use href="#Y" x="816"/><use href="#R" x="852"/><path class="ln" d="M1040 0H1119"/><rect class="c" x="1040" y="-7" width="64" height="14"/><rect class="c" x="1106" y="-7" width="13" height="14"/><path class="s" d="M1044 -7V7M1112 -7V7"/></g>
<g id="r71" transform="translate(0,1365.09)"><text class="lbl" x="159" y="6.8">AH09G16620.1</text><path class="ln" d="M306 0H858"/><use href="#P" x="713"/><use href="#TG" x="743"/><use href="#Y" x="790"/><use href="#R" x="825"/><path class="ln" d="M1040 0H1498"/><rect class="c" x="1040" y="-7" width="7" height="14"/><rect class="c" x="1422" y="-7" width="57" height="14"/><rect class="c" x="1480" y="-7" width="18" height="14"/><path class="s" d="M1489 -7V7"/></g>
<g id="r72" transform="translate(0,1383.88)"><text class="lbl" x="159" y="6.8">AH05G22210.1</text><path class="ln" d="M306 0H872"/><use href="#P" x="719"/><use href="#TG" x="755"/><use href="#Y" x="802"/><use href="#R" x="836"/><path class="ln" d="M1040 0H1117"/><rect class="c" x="1040" y="-7" width="59" height="14"/><rect class="c" x="1101" y="-7" width="16" height="14"/><path class="s" d="M1108 -7V7"/></g>
<g id="r73" transform="translate(0,1402.67)"><text class="lbl" x="159" y="6.8">AH05G25480.1</text><path class="ln" d="M306 0H850"/><use href="#Y" x="681"/><use href="#P" x="695"/><use href="#TG" x="732"/><use href="#Y" x="779"/><use href="#R" x="813"/><rect class="c" x="1040" y="-7" width="58" height="14"/><rect class="u" x="1098" y="-7" width="39" height="14"/><path class="s" d="M1104 -7V7"/></g>
<g id="r74" transform="translate(0,1421.46)"><text class="lbl" x="159" y="6.8">AH09G25780.1</text><path class="ln" d="M306 0H839"/><use href="#P" x="682"/><use href="#TG" x="711"/><use href="#Y" x="757"/><use href="#R" x="790"/><path class="ln" d="M1040 0H1194"/><path class="s" d="M1041.5 -7V7M1049.5 -7V7M1061.5 -7V7M1067.5 -7V7M1073.5 -7V7M1079.5 -7V7M1085.5 -7V7M1091.5 -7V7M1097.5 -7V7M1103.5 -7V7M1109.5 -7V7M1115.5 -7V7M1121.5 -7V7M1127.5 -7V7M1133.5 -7V7M1139.5 -7V7M1145.5 -7V7"/><rect class="c" x="1150" y="-7" width="44" height="14"/><path class="s" d="M1156 -7V7M1162 -7V7M1168 -7V7M1175 -7V7M1182 -7V7M1188 -7V7"/></g>
<g id="r75" transform="translate(0,1440.25)"><text class="lbl" x="159" y="6.8">AH17G04750.1</text><path class="ln" d="M306 0H846"/><use href="#P" x="690"/><use href="#TG" x="720"/><use href="#Y" x="770"/><use href="#R" x="809"/><path class="ln" d="M1040 0H1097"/><rect class="c" x="1040" y="-7" width="48" height="14"/><rect class="c" x="1090" y="-7" width="7" height="14"/></g>
<g id="r76" transform="translate(0,1459.04)"><text class="lbl" x="159" y="6.8">AH17G04730.1</text><path class="ln" d="M306 0H919"/><use href="#P" x="679"/><use href="#TG" x="709"/><use href="#Y" x="760"/><use href="#R" x="798"/><path class="ln" d="M1040 0H1143"/><rect class="c" x="1040" y="-7" width="56" height="14"/><rect class="c" x="1119" y="-7" width="24" height="14"/><path class="s" d="M1130 -7V7"/></g>
<g id="r77" transform="translate(0,1477.83)"><text class="lbl" x="159" y="6.8">AH04G28680.1</text><path class="ln" d="M306 0H879"/><use href="#P" x="739"/><use href="#TG" x="769"/><use href="#Y" x="814"/><use href="#R" x="848"/><path class="ln" d="M1040 0H1117"/><rect class="c" x="1040" y="-7" width="60" height="14"/><rect class="c" x="1102" y="-7" width="15" height="14"/><path class="s" d="M1108 -7V7"/></g>
<g id="r78" transform="translate(0,1496.62)"><text class="lbl" x="159" y="6.8">AH12G28410.1</text><path class="ln" d="M306 0H706"/><use href="#P" x="572"/><use href="#TG" x="601"/><use href="#Y" x="647"/><use href="#R" x="679"/><path class="ln" d="M1040 0H1717"/><rect class="c" x="1040" y="-7" width="39" height="14"/><rect class="c" x="1707" y="-7" width="10" height="14"/></g>
<g id="r79" transform="translate(0,1515.41)"><text class="lbl" x="159" y="6.8">AH11G34340.1</text><path class="ln" d="M306 0H827"/><use href="#P" x="678"/><use href="#TG" x="708"/><use href="#Y" x="760"/><use href="#R" x="801"/><path class="ln" d="M1040 0H1107"/><rect class="c" x="1040" y="-7" width="55" height="14"/><rect class="c" x="1097" y="-7" width="10" height="14"/></g>
<g id="r80" transform="translate(0,1534.2)"><text class="lbl" x="159" y="6.8">AH13G49190.2</text><path class="ln" d="M306 0H959"/><use href="#P" x="360"/><use href="#P" x="820"/><use href="#TG" x="848"/><use href="#Y" x="893"/><use href="#R" x="932"/><path class="ln" d="M1040 0H1232"/><rect class="c" x="1040" y="-7" width="18" height="14"/><rect class="c" x="1079" y="-7" width="12" height="14"/><rect class="c" x="1099" y="-7" width="44" height="14"/><rect class="u" x="1147" y="-7" width="85" height="14"/><path class="s" d="M1107 -7V7"/></g>
<g id="r81" transform="translate(0,1552.99)"><text class="lbl" x="159" y="6.8">AH04G06840.1</text><path class="ln" d="M306 0H951"/><use href="#P" x="818"/><use href="#TG" x="846"/><use href="#Y" x="892"/><use href="#R" x="929"/><path class="ln" d="M1040 0H1165"/><rect class="c" x="1040" y="-7" width="16" height="14"/><rect class="c" x="1074" y="-7" width="12" height="14"/><rect class="c" x="1107" y="-7" width="58" height="14"/><path class="s" d="M1152 -7V7"/></g>
<g id="r82" transform="translate(0,1571.78)"><text class="lbl" x="159" y="6.8">AH13G47060.1</text><path class="ln" d="M306 0H840"/><use href="#T" x="645"/><use href="#P" x="685"/><use href="#TG" x="719"/><use href="#Y" x="768"/><use href="#R" x="810"/><path class="ln" d="M1040 0H1109"/><rect class="c" x="1040" y="-7" width="55" height="14"/><rect class="c" x="1097" y="-7" width="12" height="14"/><path class="s" d="M1103 -7V7"/></g>
<g id="r83" transform="translate(0,1590.57)"><text class="lbl" x="159" y="6.8">AH10G16100.1</text><path class="ln" d="M306 0H839"/><use href="#P" x="690"/><use href="#TG" x="723"/><use href="#Y" x="770"/><use href="#R" x="819"/><path class="ln" d="M1040 0H1113"/><rect class="c" x="1040" y="-7" width="60" height="14"/><rect class="c" x="1102" y="-7" width="11" height="14"/><path class="s" d="M1108 -7V7"/></g>
<g id="r84" transform="translate(0,1609.36)"><text class="lbl" x="159" y="6.8">AH05G01070.1</text><path class="ln" d="M306 0H856"/><use href="#P" x="714"/><use href="#TG" x="750"/><use href="#Y" x="798"/><use href="#R" x="836"/><path class="ln" d="M1040 0H1117"/><rect class="c" x="1040" y="-7" width="58" height="14"/><rect class="c" x="1100" y="-7" width="17" height="14"/><path class="s" d="M1106 -7V7M1111 -7V7"/></g>
<g id="r85" transform="translate(0,1628.15)"><text class="lbl" x="159" y="6.8">AH09G08540.1</text><path class="ln" d="M306 0H855"/><use href="#P" x="708"/><use href="#TG" x="741"/><use href="#Y" x="791"/><use href="#R" x="831"/><path class="ln" d="M1040 0H1118"/><rect class="c" x="1040" y="-7" width="60" height="14"/><rect class="c" x="1102" y="-7" width="16" height="14"/><path class="s" d="M1108 -7V7M1113 -7V7"/></g>
<g id="r86" transform="translate(0,1646.94)"><text class="lbl" x="159" y="6.8">AH09G08510.1</text><path class="ln" d="M306 0H621"/><use href="#P" x="478"/><use href="#TG" x="513"/><use href="#Y" x="561"/><use href="#R" x="601"/><path class="ln" d="M1040 0H1081"/><rect class="c" x="1040" y="-7" width="30" height="14"/><rect class="c" x="1072" y="-7" width="9" height="14"/></g>
<g id="r87" transform="translate(0,1665.73)"><text class="lbl" x="159" y="6.8">AH06G07770.1</text><path class="ln" d="M306 0H549"/><use href="#P" x="429"/><use href="#G" x="461"/><use href="#Y" x="491"/><use href="#R" x="525"/><path class="ln" d="M1040 0H1170"/><path class="s" d="M1041.5 -7V7M1064.5 -7V7M1125.5 -7V7M1133.5 -7V7"/><rect class="c" x="1100" y="-7" width="18" height="14"/><rect class="c" x="1142" y="-7" width="13" height="14"/><rect class="c" x="1157" y="-7" width="13" height="14"/><path class="s" d="M1106 -7V7M1112 -7V7M1148 -7V7M1163 -7V7"/></g>
<g id="r88" transform="translate(0,1684.52)"><text class="lbl" x="159" y="6.8">AH05G06780.1</text><path class="ln" d="M306 0H640"/><use href="#Y" x="368"/><use href="#P" x="455"/><use href="#TG" x="484"/><use href="#Y" x="530"/><use href="#R" x="569"/><path class="ln" d="M1040 0H1097"/><rect class="u" x="1040" y="-7" width="6" height="14"/><rect class="c" x="1046" y="-7" width="14" height="14"/><rect class="c" x="1062" y="-7" width="35" height="14"/><path class="s" d="M1068 -7V7M1075 -7V7M1082 -7V7M1089 -7V7"/></g>
<g id="r89" transform="translate(0,1703.31)"><text class="lbl" x="159" y="6.8">AH16G09430.1</text><path class="ln" d="M306 0H576"/><use href="#P" x="427"/><use href="#TG" x="457"/><use href="#Y" x="503"/><use href="#R" x="539"/><path class="ln" d="M1040 0H1142"/><rect class="u" x="1040" y="-7" width="8" height="14"/><rect class="c" x="1048" y="-7" width="12" height="14"/><rect class="u" x="1060" y="-7" width="8" height="14"/><path class="s" d="M1076.5 -7V7M1106.5 -7V7"/><rect class="c" x="1087" y="-7" width="8" height="14"/><rect class="c" x="1115" y="-7" width="7" height="14"/><rect class="u" x="1130" y="-7" width="12" height="14"/></g>

<g id="legend">
<rect x="1847" y="26.5" width="48" height="19" fill="url(#gP)" class="bx"/><text class="lg" x="1901" y="37.5">Motif 3</text>
<rect x="1847" y="49.2" width="48" height="19" fill="url(#gT)" class="bx"/><text class="lg" x="1901" y="60.2">Motif 4</text>
<rect x="1847" y="71.9" width="48" height="19" fill="url(#gG)" class="bx"/><text class="lg" x="1901" y="82.9">Motif 1</text>
<rect x="1847" y="94.6" width="48" height="19" fill="url(#gY)" class="bx"/><text class="lg" x="1901" y="105.6">Motif 2</text>
<rect x="1847" y="117.3" width="48" height="19" fill="url(#gR)" class="bx"/><text class="lg" x="1901" y="128.3">Motif 5</text>
<rect x="1847" y="177.3" width="48" height="19" fill="url(#gG)" class="bx"/><text class="lg" x="1901" y="187.5">UTR</text>
<rect x="1847" y="200" width="48" height="19" fill="url(#gY)" class="bx"/><text class="lg" x="1901" y="210.5">CDS</text>
</g>

<g id="axis">
<path d="M308 1721H1727" stroke="#000" stroke-width="3"/>
<text class="ax" x="294" y="1724">5'</text>
<text class="ax" x="948" y="1724">5'</text>
<text class="ax" x="985" y="1724">3'</text>
<text class="ax" x="1728" y="1724">3'</text>
</g>
</svg>
